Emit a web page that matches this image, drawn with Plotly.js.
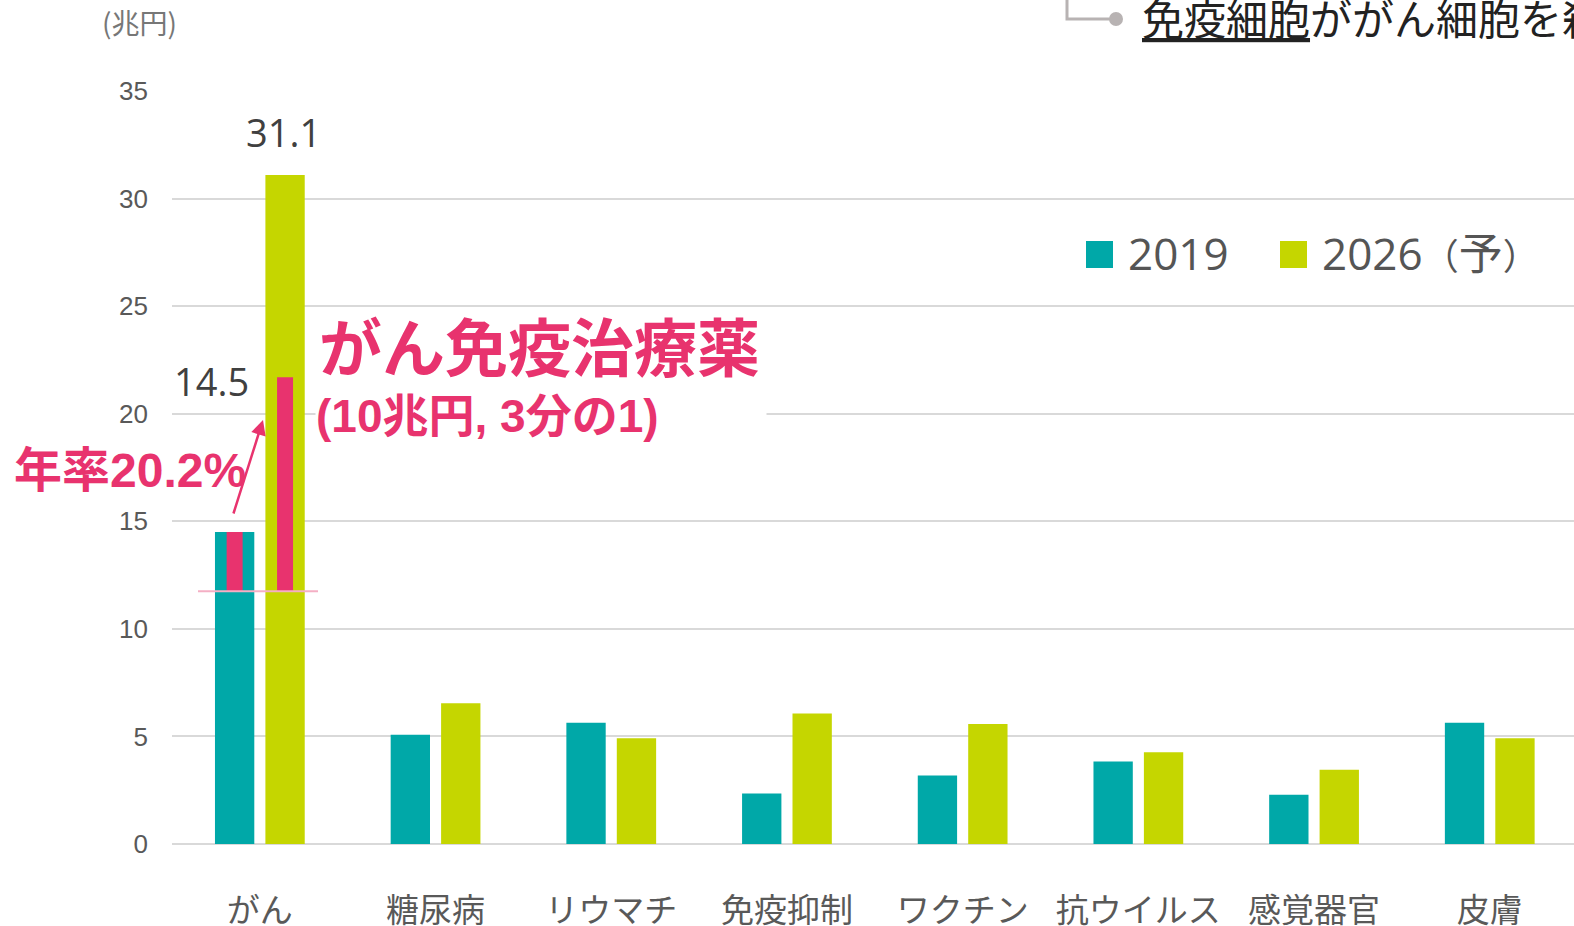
<!DOCTYPE html>
<html><head><meta charset="utf-8">
<script src="https://cdn.plot.ly/plotly-3.0.1.min.js"></script>
<style>html,body{margin:0;padding:0;background:#fff;overflow:hidden}#chart{width:1574px;height:926px;}</style>
</head><body><div id="chart"></div>
<script>
// ---- data ----
const categories = ['がん','糖尿病','リウマチ','免疫抑制','ワクチン','抗ウイルス','感覚器官','皮膚'];
const values2019 = [14.5, 5.08, 5.63, 2.35, 3.18, 3.83, 2.29, 5.63];
const values2026 = [31.1, 6.54, 4.91, 6.06, 5.58, 4.26, 3.45, 4.91];
const seriesNames = ['2019', '2026（予）'];
const immunoBase = 11.75;           // bottom of the highlighted immunotherapy segment
const immunoTop = [14.5, 21.7];     // top of the segment in 2019 / 2026
const yTicks = [0, 5, 10, 15, 20, 25, 30, 35];
const unitLabel = '(兆円)';
const growthLabel = '年率20.2%';
const immunoTitle = 'がん免疫治療薬';
const immunoNote = '(10兆円, 3分の1)';
const topNote = '<u>免疫細胞</u>ががん細胞を殺す';

// ---- layout helpers (pixel geometry) ----
const W = 1574, H = 926, ML = 172, MR = 0, MT = 91, MB = 82;
const PW = W - ML - MR, PH = H - MT - MB;
const catStep = 175.7;
const px = p => (p - ML) / PW;          // pixel x -> paper x
const py = p => (H - MB - p) / PH;      // pixel y -> paper y
const cx = p => (p - ML) / catStep - 0.5; // pixel x -> category coordinate

const teal = '#00A8A8', lime = '#C5D600', pink = '#E8336E';
const jp = '"Noto Sans CJK JP", "Noto Sans", sans-serif';
const numJp = '"Open Sans", "Noto Sans CJK JP", sans-serif';
const boldJp = '"Liberation Sans", "Noto Sans CJK JP", sans-serif';

const legendText = s => s.replace('（', '<span style="font-size:36px">（</span>')
                         .replace('）', '<span style="font-size:36px">）</span>');

const traces = [
  {type:'bar', x:categories, y:values2019, name:seriesNames[0], marker:{color:teal}, showlegend:false},
  {type:'bar', x:categories, y:values2026, name:seriesNames[1], marker:{color:lime}, showlegend:false},
  {type:'bar', x:[categories[0], categories[0]], base:[immunoBase, immunoBase],
   y:immunoTop.map(t => t - immunoBase), width:[0.091, 0.091], offset:[-0.189, 0.098],
   marker:{color:pink}, showlegend:false, hoverinfo:'skip'}
];

const annotations = [
  {xref:'paper', yref:'paper', x:px(100), y:py(22), xanchor:'left', yanchor:'middle', showarrow:false,
   text:unitLabel, font:{family:jp, size:28, color:'#777777'}},
  {xref:'x', yref:'y', x:0, xshift:24, y:values2026[0], yshift:43, yanchor:'middle', showarrow:false,
   text:values2026[0].toFixed(1), font:{family:numJp, size:38, color:'#404040'}},
  {xref:'x', yref:'y', x:0, xshift:-48, y:values2019[0], yshift:151, yanchor:'middle', showarrow:false,
   text:values2019[0].toFixed(1), font:{family:numJp, size:38, color:'#404040'}},
  {xref:'paper', yref:'paper', x:px(317), y:py(349), xanchor:'left', yanchor:'middle', showarrow:false,
   text:'<b>'+immunoTitle+'</b>', font:{family:boldJp, size:63, color:pink}},
  {xref:'paper', yref:'paper', x:px(315), y:py(416), xanchor:'left', yanchor:'middle', showarrow:false,
   width:450, align:'left', bgcolor:'#ffffff', borderpad:0,
   text:'<b>'+immunoNote+'</b>', font:{family:boldJp, size:46, color:pink}},
  {xref:'paper', yref:'paper', x:px(12), y:py(470), xanchor:'left', yanchor:'middle', showarrow:false,
   text:'<b>'+growthLabel+'</b>', font:{family:boldJp, size:48, color:pink}},
  {xref:'x', yref:'y', axref:'x', ayref:'y', x:cx(263), y:(H-MB-420)/PH*35, ax:cx(233), ay:(H-MB-515)/PH*35,
   text:'', showarrow:true, arrowhead:2, arrowsize:1.2, arrowwidth:2.5, arrowcolor:pink, standoff:0},
  // legend
  {xref:'paper', yref:'paper', x:px(1126), y:py(253), xanchor:'left', yanchor:'middle', showarrow:false,
   text:legendText(seriesNames[0]), font:{family:numJp, size:44, color:'#555555'}},
  {xref:'paper', yref:'paper', x:px(1320), y:py(253), xanchor:'left', yanchor:'middle', showarrow:false,
   text:legendText(seriesNames[1]), font:{family:numJp, size:44, color:'#555555'}},
  // top-right note
  {xref:'paper', yref:'paper', x:px(1140), y:py(16), xanchor:'left', yanchor:'middle', showarrow:false,
   text:topNote, font:{family:jp, size:42, color:'#222222'}}
];

const shapes = [
  {type:'line', xref:'x', yref:'y', x0:cx(198), x1:cx(318), y0:immunoBase, y1:immunoBase,
   line:{color:'#F4AFC4', width:2}, layer:'above'},
  {type:'rect', xref:'paper', yref:'paper', x0:px(1086), x1:px(1113), y0:py(241), y1:py(268),
   fillcolor:teal, line:{width:0}},
  {type:'rect', xref:'paper', yref:'paper', x0:px(1280), x1:px(1307), y0:py(241), y1:py(268),
   fillcolor:lime, line:{width:0}},
  {type:'path', xref:'paper', yref:'paper',
   path:`M ${px(1067)} ${py(-5)} L ${px(1067)} ${py(19)} L ${px(1116)} ${py(19)}`,
   line:{color:'#B8B3B3', width:3}},
  {type:'circle', xref:'paper', yref:'paper', x0:px(1109), x1:px(1123), y0:py(12), y1:py(26),
   fillcolor:'#B8B3B3', line:{width:0}}
];

const layout = {
  width:W, height:H, margin:{l:ML, r:MR, t:MT, b:MB, pad:0},
  paper_bgcolor:'#ffffff', plot_bgcolor:'#ffffff',
  barmode:'group', bargap:0.426, bargroupgap:0.22,
  showlegend:false,
  xaxis:{type:'category', range:[-0.5, -0.5 + PW/catStep], showgrid:false, zeroline:false, showline:false,
         ticks:'', ticklabelstandoff:44, tickfont:{family:jp, size:33, color:'#595959'}, fixedrange:true},
  yaxis:{range:[0,35], tickvals:yTicks, showgrid:true, gridcolor:'#D9D9D9', gridwidth:2,
         zeroline:true, zerolinecolor:'#D9D9D9', zerolinewidth:2, showline:false, ticks:'',
         ticklabelstandoff:23, tickfont:{family:'"Liberation Sans", Arial, sans-serif', size:26, color:'#595959'}, fixedrange:true},
  annotations, shapes
};

Plotly.newPlot('chart', traces, layout, {displayModeBar:false, staticPlot:true});
</script></body></html>
